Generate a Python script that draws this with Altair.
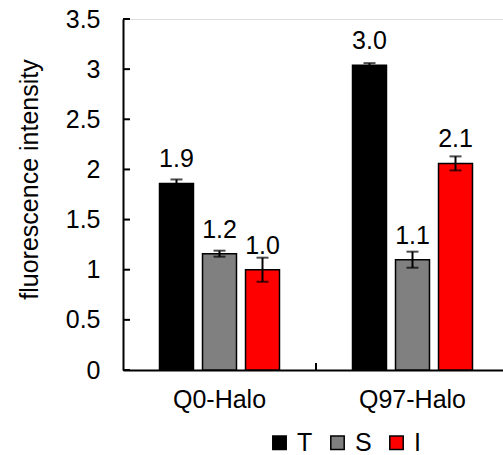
import altair as alt
import pandas as pd

# Bar data: two constructs, three fractions each
groups = ["Q0-Halo", "Q0-Halo", "Q0-Halo", "Q97-Halo", "Q97-Halo", "Q97-Halo"]
series = ["T", "S", "I", "T", "S", "I"]
values = [1.86, 1.16, 1.00, 3.04, 1.10, 2.06]
errors = [0.04, 0.03, 0.12, 0.02, 0.08, 0.07]

group_order = ["Q0-Halo", "Q97-Halo"]
series_order = ["T", "S", "I"]
series_colors = ["#000000", "#808080", "#ff0000"]
y_ticks = [0, 0.5, 1, 1.5, 2, 2.5, 3, 3.5]

FONT = "Liberation Sans"
FS = 25
W, H = 380, 351

df = pd.DataFrame({"group": groups, "series": series, "value": values, "err": errors})
ticks_df = pd.DataFrame({"tick": y_ticks})
bound_df = pd.DataFrame({"group": ["Q97-Halo"]})

x_scale = alt.Scale(domain=group_order, range=[0, 386], paddingInner=0, paddingOuter=0)
xo_scale = alt.Scale(domain=series_order, paddingInner=0.21, paddingOuter=0.849)
y_scale = alt.Scale(domain=[0, 3.5], nice=False, zero=True)

base = alt.Chart(df).encode(
    x=alt.X("group:N", scale=x_scale, sort=group_order,
            axis=alt.Axis(title=None, ticks=False, labelAngle=0, labelPadding=17,
                          labelFont=FONT, labelFontSize=FS, labelColor="black",
                          domainColor="black", domainWidth=2)),
    xOffset=alt.XOffset("series:N", scale=xo_scale, sort=series_order),
)

bars = base.mark_bar(stroke="black", strokeWidth=1.5).encode(
    y=alt.Y("value:Q", scale=y_scale,
            axis=alt.Axis(title="fluorescence intensity", values=y_ticks, format="~g",
                          ticks=False, grid=False, labelPadding=23,
                          labelFont=FONT, labelFontSize=FS, labelColor="black",
                          titleFont=FONT, titleFontSize=FS, titleFontWeight="normal",
                          titleColor="black", titlePadding=23, titleY=160,
                          domainColor="black", domainWidth=2)),
    color=alt.Color("series:N", sort=series_order,
                    scale=alt.Scale(domain=series_order, range=series_colors),
                    legend=alt.Legend(title=None, orient="none", direction="horizontal",
                                      legendX=144, legendY=411, padding=0,
                                      symbolType="square", symbolSize=180,
                                      symbolStrokeColor="black", symbolStrokeWidth=1.5,
                                      labelFont=FONT, labelFontSize=FS, labelColor="black",
                                      labelOffset=5, columnPadding=12)),
)

err = base.transform_calculate(
    lo="datum.value - datum.err", hi="datum.value + datum.err"
)
err_line = err.mark_rule(color="black", strokeWidth=2).encode(
    y=alt.Y("lo:Q", scale=y_scale), y2="hi:Q"
)
err_lo = err.mark_tick(color="black", size=12, thickness=2, orient="horizontal").encode(
    y=alt.Y("lo:Q", scale=y_scale)
)
err_hi = err.mark_tick(color="black", size=12, thickness=2, orient="horizontal").encode(
    y=alt.Y("hi:Q", scale=y_scale)
)

labels = base.mark_text(font=FONT, fontSize=FS, color="black",
                        baseline="alphabetic", dy=-16).encode(
    y=alt.Y("value:Q", scale=y_scale),
    text=alt.Text("value:Q", format=".1f"),
)

# inward tick marks on the value axis
y_tick_marks = alt.Chart(ticks_df).mark_rule(color="black", strokeWidth=2).encode(
    y=alt.Y("tick:Q", scale=y_scale), x=alt.value(0), x2=alt.value(7)
)

# inward tick at the boundary between the two groups
x_tick_mark = alt.Chart(bound_df).mark_rule(color="black", strokeWidth=2).encode(
    x=alt.X("group:N", scale=x_scale, bandPosition=0),
    y=alt.value(H), y2=alt.value(H - 7),
)

chart = alt.layer(
    bars, err_line, err_lo, err_hi, labels, y_tick_marks, x_tick_mark
).properties(
    width=W, height=H,
    autosize=alt.AutoSizeParams(type="none"),
    padding={"left": 123, "top": 19, "right": 0, "bottom": 85},
).configure_view(stroke=None).configure(background="white")

chart.save("out.html", embed_options={"renderer": "svg", "actions": False})
